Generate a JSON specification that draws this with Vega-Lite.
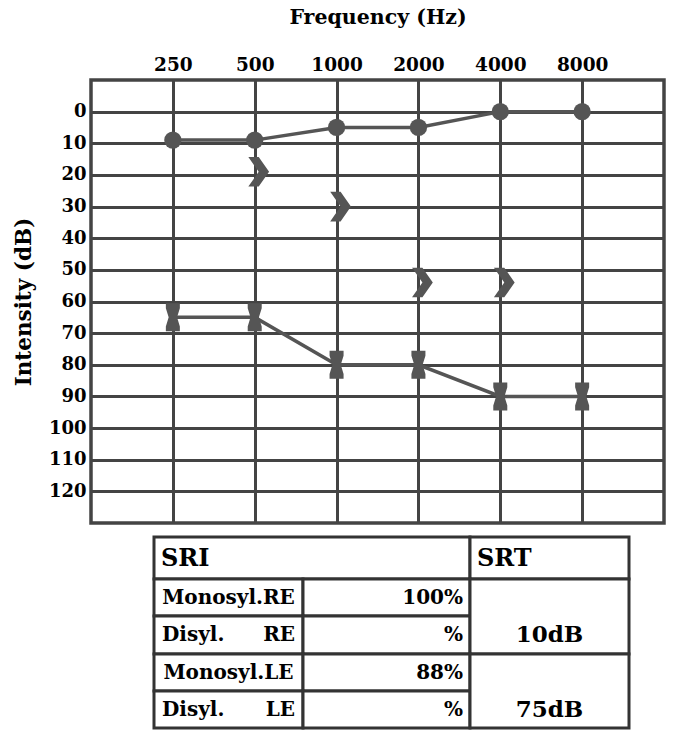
{
  "$schema": "https://vega.github.io/schema/vega-lite/v6.json",
  "background": "white",
  "padding": {"left": 11, "top": 5, "right": 16, "bottom": 10},
  "spacing": 0,
  "config": {"font": "DejaVu Serif", "view": {"stroke": null}},
  "datasets": {
    "audio": [
      {"freq": 250, "db": 9, "series": "AC-R"},
      {"freq": 500, "db": 9, "series": "AC-R"},
      {"freq": 1000, "db": 5, "series": "AC-R"},
      {"freq": 2000, "db": 5, "series": "AC-R"},
      {"freq": 4000, "db": 0, "series": "AC-R"},
      {"freq": 8000, "db": 0, "series": "AC-R"},
      {"freq": 250, "db": 65, "series": "AC-L"},
      {"freq": 500, "db": 65, "series": "AC-L"},
      {"freq": 1000, "db": 80, "series": "AC-L"},
      {"freq": 2000, "db": 80, "series": "AC-L"},
      {"freq": 4000, "db": 90, "series": "AC-L"},
      {"freq": 8000, "db": 90, "series": "AC-L"},
      {"freq": 500, "db": 19, "series": "BC"},
      {"freq": 1000, "db": 30, "series": "BC"},
      {"freq": 2000, "db": 54, "series": "BC"},
      {"freq": 4000, "db": 54, "series": "BC"}
    ],
    "table": [
      {"kind": "cell", "c0": 0, "c1": 2, "r0": 0, "r1": 1},
      {"kind": "cell", "c0": 2, "c1": 3, "r0": 0, "r1": 1},
      {"kind": "cell", "c0": 0, "c1": 1, "r0": 1, "r1": 2},
      {"kind": "cell", "c0": 1, "c1": 2, "r0": 1, "r1": 2},
      {"kind": "cell", "c0": 0, "c1": 1, "r0": 2, "r1": 3},
      {"kind": "cell", "c0": 1, "c1": 2, "r0": 2, "r1": 3},
      {"kind": "cell", "c0": 2, "c1": 3, "r0": 1, "r1": 3},
      {"kind": "cell", "c0": 0, "c1": 1, "r0": 3, "r1": 4},
      {"kind": "cell", "c0": 1, "c1": 2, "r0": 3, "r1": 4},
      {"kind": "cell", "c0": 0, "c1": 1, "r0": 4, "r1": 5},
      {"kind": "cell", "c0": 1, "c1": 2, "r0": 4, "r1": 5},
      {"kind": "cell", "c0": 2, "c1": 3, "r0": 3, "r1": 5},
      {"kind": "head", "text": "SRI", "col": 0, "row": 0.5},
      {"kind": "head", "text": "SRT", "col": 2, "row": 0.5},
      {"kind": "labelC", "text": "Monosyl.RE", "col": 0.5, "row": 1.5},
      {"kind": "labelL", "text": "Disyl.", "col": 0, "row": 2.5},
      {"kind": "labelR", "text": "RE", "col": 1, "row": 2.5},
      {"kind": "labelC", "text": "Monosyl.LE", "col": 0.5, "row": 3.5},
      {"kind": "labelL", "text": "Disyl.", "col": 0, "row": 4.5},
      {"kind": "labelR", "text": "LE", "col": 1, "row": 4.5},
      {"kind": "value", "text": "100%", "col": 2, "row": 1.5},
      {"kind": "value", "text": "%", "col": 2, "row": 2.5},
      {"kind": "value", "text": "88%", "col": 2, "row": 3.5},
      {"kind": "value", "text": "%", "col": 2, "row": 4.5},
      {"kind": "srt", "text": "10dB", "col": 2.5, "row": 2.5},
      {"kind": "srt", "text": "75dB", "col": 2.5, "row": 4.5}
    ]
  },
  "vconcat": [
    {
      "width": 573,
      "height": 443,
      "view": {"stroke": "#444", "strokeWidth": 3.5},
      "data": {"name": "audio"},
      "encoding": {
        "x": {
          "field": "freq", "type": "quantitative",
          "scale": {"type": "log", "base": 2, "domain": [125, 16000], "nice": false},
          "axis": {
            "orient": "top", "title": "Frequency (Hz)",
            "values": [250, 500, 1000, 2000, 4000, 8000], "format": "d",
            "grid": true, "gridColor": "#444", "gridWidth": 3, "gridOpacity": 1,
            "domain": false, "ticks": false, "tickSize": 0, "labelPadding": 6,
            "labelFontWeight": "bold", "labelFontSize": 18.5, "labelColor": "black",
            "titleFontSize": 20.5, "titleFontWeight": "bold", "titleColor": "black", "titlePadding": 28
          }
        },
        "y": {
          "field": "db", "type": "quantitative",
          "scale": {"domain": [-10, 130], "reverse": true, "nice": false, "zero": false},
          "axis": {
            "title": "Intensity (dB)",
            "values": [0, 10, 20, 30, 40, 50, 60, 70, 80, 90, 100, 110, 120],
            "grid": true, "gridColor": "#444", "gridWidth": 3, "gridOpacity": 1,
            "domain": false, "ticks": false, "tickSize": 0, "labelPadding": 5,
            "labelFontWeight": "bold", "labelFontSize": 18, "labelColor": "black",
            "titleFontSize": 21.5, "titleFontWeight": "bold", "titleColor": "black", "titlePadding": 13
          }
        }
      },
      "layer": [
        {
          "transform": [{"filter": "datum.series === 'AC-R'"}],
          "mark": {"type": "line", "color": "#555", "strokeWidth": 3.5}
        },
        {
          "transform": [{"filter": "datum.series === 'AC-R'"}],
          "mark": {"type": "point", "shape": "circle", "filled": true, "size": 300, "color": "#555", "opacity": 1}
        },
        {
          "transform": [{"filter": "datum.series === 'AC-L'"}],
          "mark": {"type": "line", "color": "#555", "strokeWidth": 3.5}
        },
        {
          "transform": [{"filter": "datum.series === 'AC-L'"}],
          "mark": {"type": "point", "shape": "M-0.5,-1L0.5,-1L0.5,-0.65L0.3,0L0.5,0.65L0.5,1L-0.5,1L-0.5,0.65L-0.3,0L-0.5,-0.65Z", "filled": true, "size": 784, "color": "#555", "opacity": 1}
        },
        {
          "transform": [{"filter": "datum.series === 'BC'"}],
          "mark": {"type": "point", "shape": "M-0.7,-1L0,-1L0.7,0L0,1L-0.7,1L0,0Z", "filled": true, "size": 880, "color": "#555", "opacity": 1, "xOffset": 4}
        }
      ]
    },
    {
      "width": 573,
      "height": 206,
      "view": {"stroke": null},
      "data": {"name": "table"},
      "encoding": {
        "x": {"type": "quantitative", "scale": {"type": "linear", "domain": [0, 1, 2, 3], "range": [63, 212, 379, 538], "nice": false, "zero": false}, "axis": null},
        "y": {"type": "quantitative", "scale": {"type": "linear", "domain": [0, 1, 2, 3, 4, 5], "range": [12, 54, 91, 129, 166, 203], "nice": false, "zero": false}, "axis": null}
      },
      "layer": [
        {
          "transform": [{"filter": "datum.kind === 'cell'"}],
          "mark": {"type": "rect", "fill": "white", "stroke": "#333", "strokeWidth": 3},
          "encoding": {
            "x": {"field": "c0", "type": "quantitative"},
            "x2": {"field": "c1"},
            "y": {"field": "r0", "type": "quantitative"},
            "y2": {"field": "r1"}
          }
        },
        {
          "transform": [{"filter": "datum.kind === 'head'"}],
          "mark": {"type": "text", "align": "left", "baseline": "middle", "dx": 7, "dy": 1, "fontSize": 24, "fontWeight": "bold", "color": "black"},
          "encoding": {"x": {"field": "col", "type": "quantitative"}, "y": {"field": "row", "type": "quantitative"}, "text": {"field": "text"}}
        },
        {
          "transform": [{"filter": "datum.kind === 'labelC'"}],
          "mark": {"type": "text", "align": "center", "baseline": "middle", "fontSize": 20, "fontWeight": "bold", "color": "black"},
          "encoding": {"x": {"field": "col", "type": "quantitative"}, "y": {"field": "row", "type": "quantitative"}, "text": {"field": "text"}}
        },
        {
          "transform": [{"filter": "datum.kind === 'labelL'"}],
          "mark": {"type": "text", "align": "left", "baseline": "middle", "dx": 8, "fontSize": 20, "fontWeight": "bold", "color": "black"},
          "encoding": {"x": {"field": "col", "type": "quantitative"}, "y": {"field": "row", "type": "quantitative"}, "text": {"field": "text"}}
        },
        {
          "transform": [{"filter": "datum.kind === 'labelR'"}],
          "mark": {"type": "text", "align": "right", "baseline": "middle", "dx": -8, "fontSize": 20, "fontWeight": "bold", "color": "black"},
          "encoding": {"x": {"field": "col", "type": "quantitative"}, "y": {"field": "row", "type": "quantitative"}, "text": {"field": "text"}}
        },
        {
          "transform": [{"filter": "datum.kind === 'value'"}],
          "mark": {"type": "text", "align": "right", "baseline": "middle", "dx": -7, "fontSize": 20, "fontWeight": "bold", "color": "black"},
          "encoding": {"x": {"field": "col", "type": "quantitative"}, "y": {"field": "row", "type": "quantitative"}, "text": {"field": "text"}}
        },
        {
          "transform": [{"filter": "datum.kind === 'srt'"}],
          "mark": {"type": "text", "align": "center", "baseline": "middle", "fontSize": 23, "fontWeight": "bold", "color": "black"},
          "encoding": {"x": {"field": "col", "type": "quantitative"}, "y": {"field": "row", "type": "quantitative"}, "text": {"field": "text"}}
        }
      ]
    }
  ]
}
